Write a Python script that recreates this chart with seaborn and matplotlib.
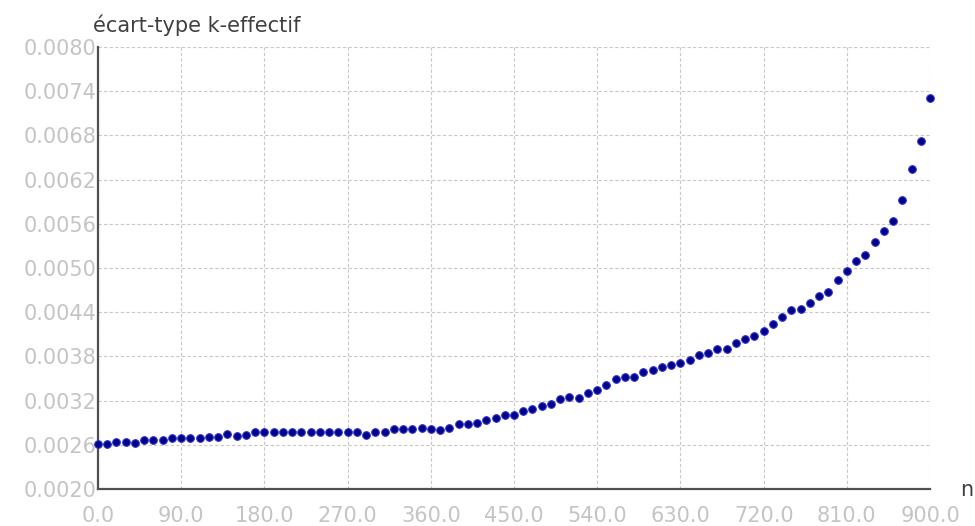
"""
Ecart-type du k-effectif en fonction de n (nuage de points).
"""

import numpy as np
import pandas as pd
import matplotlib
matplotlib.use('Agg')
import matplotlib.pyplot as plt
import seaborn as sns


# Data (one point every 10 in n)
n_values = list(range(0, 901, 10))
ecart_type = [
    0.00261, 0.00261, 0.00264, 0.00264, 0.00263, 0.00266, 0.00266, 0.00267, 0.00269, 0.00269,
    0.00269, 0.00269, 0.00271, 0.00271, 0.00275, 0.00272, 0.00273, 0.00278, 0.00278, 0.00278,
    0.00278, 0.00278, 0.00278, 0.00278, 0.00278, 0.00278, 0.00278, 0.00278, 0.00278, 0.00273,
    0.00277, 0.00277, 0.00281, 0.00281, 0.00281, 0.00283, 0.00282, 0.00280, 0.00283, 0.00288,
    0.00288, 0.00290, 0.00293, 0.00296, 0.00300, 0.00300, 0.00306, 0.00309, 0.00312, 0.00316,
    0.00322, 0.00325, 0.00324, 0.00330, 0.00335, 0.00341, 0.00349, 0.00352, 0.00352, 0.00359,
    0.00362, 0.00365, 0.00369, 0.00371, 0.00375, 0.00382, 0.00384, 0.00390, 0.00390, 0.00398,
    0.00403, 0.00408, 0.00415, 0.00424, 0.00433, 0.00443, 0.00445, 0.00453, 0.00462, 0.00467,
    0.00484, 0.00496, 0.00509, 0.00517, 0.00535, 0.00550, 0.00564, 0.00592, 0.00634, 0.00673,
    0.00731,
]
x_ticks = [0, 90, 180, 270, 360, 450, 540, 630, 720, 810, 900]
y_ticks = [0.0020, 0.0026, 0.0032, 0.0038, 0.0044, 0.0050, 0.0056, 0.0062, 0.0068, 0.0074, 0.0080]

df = pd.DataFrame({'n': n_values, 'sigma': ecart_type})

sns.set_style('white')
plt.rcParams['font.family'] = ['DejaVu Sans']

fig = plt.figure(figsize=(9.75, 5.26), dpi=100)
ax = fig.add_axes([98 / 975, 1 - 489 / 526, (930 - 98) / 975, (489 - 47) / 526])

sns.scatterplot(data=df, x='n', y='sigma', ax=ax, s=30,
                color='#000088', edgecolor='#3030c8', linewidth=0.8,
                clip_on=False, zorder=5, legend=False)

ax.set_xlim(0, 900)
ax.set_ylim(0.0020, 0.0080)
ax.set_xticks(x_ticks)
ax.set_xticklabels([f'{v:.1f}' for v in x_ticks])
ax.set_yticks(y_ticks)
ax.set_yticklabels([f'{v:.4f}' for v in y_ticks])
ax.tick_params(axis='both', length=0, labelsize=15, labelcolor='#c4c4c4')
ax.tick_params(axis='x', pad=12)
ax.tick_params(axis='y', pad=1)
ax.set_xlabel('')
ax.set_ylabel('')

ax.grid(True, linestyle=(0, (3, 2)), color='#c8c8c8', linewidth=0.8)
ax.set_axisbelow(True)
for side in ['top', 'right']:
    ax.spines[side].set_visible(False)
for side in ['left', 'bottom']:
    ax.spines[side].set_color('#505050')
    ax.spines[side].set_linewidth(1.6)

fig.text(93 / 975, 1 - 25 / 526, 'écart-type k-effectif', ha='left', va='center',
         fontsize=15, color='#404040')
fig.text(967 / 975, 1 - 490 / 526, 'n', ha='center', va='center',
         fontsize=15, color='#404040')

fig.savefig('out.png', dpi=100)
